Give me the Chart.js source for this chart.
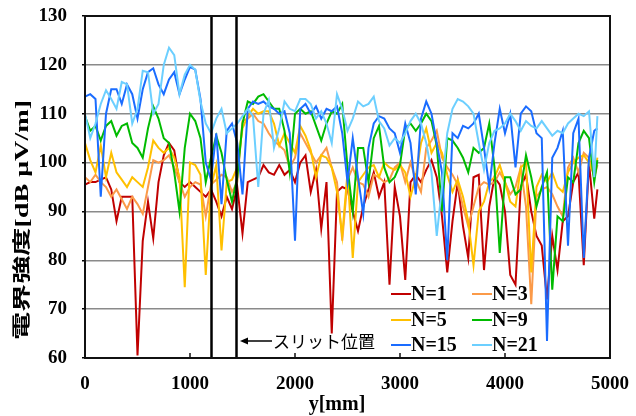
<!DOCTYPE html>
<html>
<head>
<meta charset="utf-8">
<script src="https://cdn.jsdelivr.net/npm/chart.js@4.4.0/dist/chart.umd.min.js"></script>
<style>
html, body { margin: 0; padding: 0; background: #fff; }
</style>
</head>
<body>
<canvas id="myChart" width="636" height="416"></canvas>
<script>
// measurement positions y[mm]
const positions = Array.from({ length: 98 }, (_, i) => i * 50).concat([4880]);

// field strength [dB uV/m]
const n1 = [
    95.5, 96, 96, 96.5, 97, 94.5, 88, 93, 93, 93, 60.5, 84, 92, 84.5, 96, 101.5, 104, 102.5, 96, 95, 96,
    95, 94, 93, 94.5, 92, 89, 93, 90.5, 95, 85.5, 96, 96.5, 97, 99.5, 98, 97.5, 99.5, 97.5, 98.5, 96,
    100, 101.5, 94, 98.5, 86.5, 96, 65, 94, 95, 94.5, 90, 86, 91, 94.5, 98, 93, 96, 75, 95, 89,
    76, 96, 97.5, 96, 98.5, 100.5, 97, 89, 77.5, 88, 96, 87, 80.5, 97, 97.5, 78, 91, 97, 95.5, 90,
    77, 75, 95, 97.5, 90, 85, 83, 72, 85, 78, 88, 89, 96, 98, 79, 100, 88.5, 94.5
];
const n3 = [
    97, 96, 97.5, 96, 95, 93, 94.5, 92.5, 90.5, 93, 91.5, 89.5, 95, 100.5, 100, 100.5, 101.5, 99, 96, 93, 95,
    96, 95.5, 89, 95.5, 96.5, 97.5, 97, 94, 96, 108.5, 109, 110, 108.5, 108, 106, 104.5, 103.5, 102.5, 99, 101,
    106, 104, 102, 100, 101.5, 103, 99, 96, 84, 96.5, 99, 96, 95.5, 93, 97.5, 97, 96, 96.5, 99, 100,
    96, 100, 96.5, 94, 103, 104.5, 106.5, 101, 99, 97.5, 95.5, 91, 87, 91, 95, 96, 95.5, 96, 98, 96,
    93.5, 95, 99, 91, 71, 93, 94.5, 95, 93.5, 91, 89, 99, 101, 98, 102, 101, 97, 99.5
];
const n5 = [
    104, 100.5, 98, 103.5, 97, 102, 98, 96.5, 95, 97, 96, 95, 99, 104.5, 103, 102, 103, 101, 97, 74.5, 100,
    99.5, 97.5, 77, 95, 99.5, 82, 96, 96.5, 99, 107, 109.5, 111, 110, 110.5, 110.5, 108, 103.5, 106, 104, 102,
    107.5, 105.5, 102.5, 97, 101.5, 101, 99, 94, 85, 98, 80.5, 96, 97.5, 99, 99.5, 97, 100, 99, 98.5, 99.5,
    98, 93, 97, 104, 107, 102, 104, 102, 97.5, 94, 96.5, 93, 88, 79, 90, 92, 96, 97, 99.5, 96,
    92, 91, 99, 100, 77.5, 95, 97.5, 96, 98, 95, 94, 98, 100, 101, 101.5, 100, 97.5, 101
];
const n9 = [
    109.5, 106.5, 107.5, 104.5, 107.5, 108.5, 105.5, 107.5, 108, 104, 103, 101, 107, 111.5, 109, 105, 104, 98, 90, 103, 110,
    108.5, 105, 96, 101, 105.5, 102, 96.5, 92, 97, 108, 112.5, 112, 113.5, 114, 112.5, 111, 111, 106.5, 98, 110,
    111, 110, 110.5, 107.5, 104.5, 108, 110.5, 110, 112, 99, 90, 103, 103, 96, 105, 107.5, 99, 96, 97, 99.5,
    107, 108, 106.5, 108, 110, 108.5, 103.5, 90, 105, 104.5, 103, 101, 98, 103, 102, 103, 108, 99, 81.5, 97,
    97, 93.5, 94.5, 101.5, 97, 91, 95, 98, 74, 89, 88, 97, 96, 104, 106.5, 105, 96, 100.5
];
const n15 = [
    113.5, 114, 113, 93, 110, 115, 115, 112, 116, 114, 109, 115, 118.5, 119.3, 116, 114, 117, 118.5, 114, 117, 119.6,
    119, 113, 100, 96.5, 106, 91.5, 106.5, 108, 104, 93.5, 111, 112.5, 112, 112.5, 111.5, 111, 110, 110.5, 106, 84,
    111, 112, 110, 111.5, 109, 111, 110.5, 111.5, 106, 96, 105, 97, 89.5, 103, 108, 109.5, 109, 107, 106, 102,
    108, 104, 93.5, 109, 112.5, 110, 104, 98, 80, 106, 105, 107.5, 107, 108, 110, 103, 95, 104, 111, 106,
    110, 99, 110, 111.5, 110.5, 106, 105, 63.5, 101, 103, 106.5, 83, 106, 109, 80.5, 101, 106.5, 107
];
const n21 = [
    110, 105, 108, 112, 114.8, 113, 111, 116.5, 116, 108, 111, 118.8, 118.5, 110, 112, 120, 123.5, 122, 114, 118, 120,
    119, 112.5, 108, 106, 109, 111, 106, 107, 108, 109.5, 111, 109.5, 95, 110, 112.8, 103, 107, 112.5, 111, 110.5,
    113, 113, 112, 109, 110.5, 108, 104, 114, 111, 106.5, 109, 112.5, 111.5, 112, 113.5, 108.5, 107, 103.5, 105, 104,
    106, 108.5, 110, 108, 104, 98, 85, 95, 106, 111, 113, 112.5, 111.5, 110, 104, 98.5, 104, 106.5, 107, 108,
    110, 108.5, 106.5, 108.5, 107.5, 107, 108.5, 107, 105.5, 106.5, 106, 108, 109, 110, 109.5, 110.5, 97, 109.5
];

const seriesNames = ['N=1', 'N=3', 'N=5', 'N=9', 'N=15', 'N=21'];
const seriesValues = [n1, n3, n5, n9, n15, n21];
const seriesColors = ['#c00000', '#fb9a48', '#ffc000', '#00bb00', '#1a6cff', '#6ccfff'];

const slitPositions = [1200, 1440];
const slitLabel = 'スリット位置';
const xTitle = 'y[mm]';
const yTitle = '電界強度[dB μV/m]';

const serif = '"Liberation Serif", "Noto Sans CJK JP", serif';

const datasets = seriesNames.map((name, i) => ({
    label: name,
    data: seriesValues[i].map((v, j) => ({ x: positions[j], y: v })),
    borderColor: seriesColors[i],
    backgroundColor: seriesColors[i],
    borderWidth: 2,
    pointRadius: 0,
    tension: 0,
    order: seriesNames.length - i,
}));

const extras = {
    id: 'extras',
    afterDatasetsDraw(chart) {
        const { ctx, chartArea: a, scales: { x } } = chart;
        ctx.save();

        // slit lines
        ctx.strokeStyle = '#000';
        ctx.lineWidth = 2.5;
        slitPositions.forEach(p => {
            const px = Math.round(x.getPixelForValue(p)) + 0.5;
            ctx.beginPath();
            ctx.moveTo(px, a.top);
            ctx.lineTo(px, a.bottom);
            ctx.stroke();
        });

        // frame
        ctx.lineWidth = 2;
        ctx.strokeStyle = '#111';
        ctx.strokeRect(a.left, a.top, a.right - a.left, a.bottom - a.top);

        // inward ticks on x axis
        ctx.lineWidth = 1.5;
        x.ticks.forEach(t => {
            const px = x.getPixelForValue(t.value);
            ctx.beginPath();
            ctx.moveTo(px, a.bottom);
            ctx.lineTo(px, a.bottom - 5);
            ctx.stroke();
        });

        // legend
        ctx.font = 'bold 20px ' + serif;
        ctx.textBaseline = 'middle';
        ctx.textAlign = 'left';
        const cols = [391, 472];
        const rows = [294, 320, 345];
        seriesNames.forEach((name, i) => {
            const lx = cols[i % 2];
            const ly = rows[Math.floor(i / 2)];
            ctx.strokeStyle = seriesColors[i];
            ctx.lineWidth = 2;
            ctx.beginPath();
            ctx.moveTo(lx, ly);
            ctx.lineTo(lx + 20, ly);
            ctx.stroke();
            ctx.fillStyle = '#000';
            ctx.fillText(name, lx + 20, ly + 1);
        });

        // slit annotation with arrow
        ctx.strokeStyle = '#000';
        ctx.fillStyle = '#000';
        ctx.lineWidth = 1.5;
        ctx.beginPath();
        ctx.moveTo(246, 341);
        ctx.lineTo(272, 341);
        ctx.stroke();
        ctx.beginPath();
        ctx.moveTo(240, 341);
        ctx.lineTo(248, 337.5);
        ctx.lineTo(248, 344.5);
        ctx.closePath();
        ctx.fill();
        ctx.font = '17px "Noto Sans CJK JP", sans-serif';
        ctx.fillText(slitLabel, 273, 342);

        // axis titles
        ctx.font = 'bold 20px ' + serif;
        ctx.textAlign = 'center';
        ctx.fillText(xTitle, 337, 405);

        ctx.save();
        ctx.font = 'bold 18px ' + serif;
        ctx.translate(23, 220);
        ctx.rotate(-Math.PI / 2);
        const w = ctx.measureText(yTitle).width;
        ctx.scale(240 / w, 1);
        ctx.fillText(yTitle, 0, 0);
        ctx.restore();

        ctx.restore();
    }
};

new Chart(document.getElementById('myChart'), {
    type: 'line',
    data: { datasets: datasets },
    options: {
        responsive: false,
        devicePixelRatio: 1,
        animation: false,
        layout: { padding: { top: 16, right: 22, left: 0, bottom: 0 } },
        plugins: { legend: { display: false }, tooltip: { enabled: false } },
        scales: {
            x: {
                type: 'linear',
                min: 0,
                max: 5000,
                afterFit(scale) { scale.height = 58; },
                grid: { display: false },
                border: { display: false },
                ticks: {
                    stepSize: 1000,
                    padding: 7,
                    color: '#000',
                    maxRotation: 0,
                    callback: v => String(v),
                    font: { family: serif, size: 19, weight: 'bold' },
                },
            },
            y: {
                min: 60,
                max: 130,
                afterFit(scale) {
                    scale.width = 85;
                    scale.paddingTop = 4;
                    scale.paddingBottom = 4;
                },
                grid: { color: '#8a8a8a', lineWidth: 1.5, tickLength: 3, tickColor: '#000' },
                border: { display: false },
                ticks: {
                    stepSize: 10,
                    padding: 15,
                    color: '#000',
                    font: { family: serif, size: 19, weight: 'bold' },
                },
            },
        },
    },
    plugins: [extras],
});
</script>
</body>
</html>
